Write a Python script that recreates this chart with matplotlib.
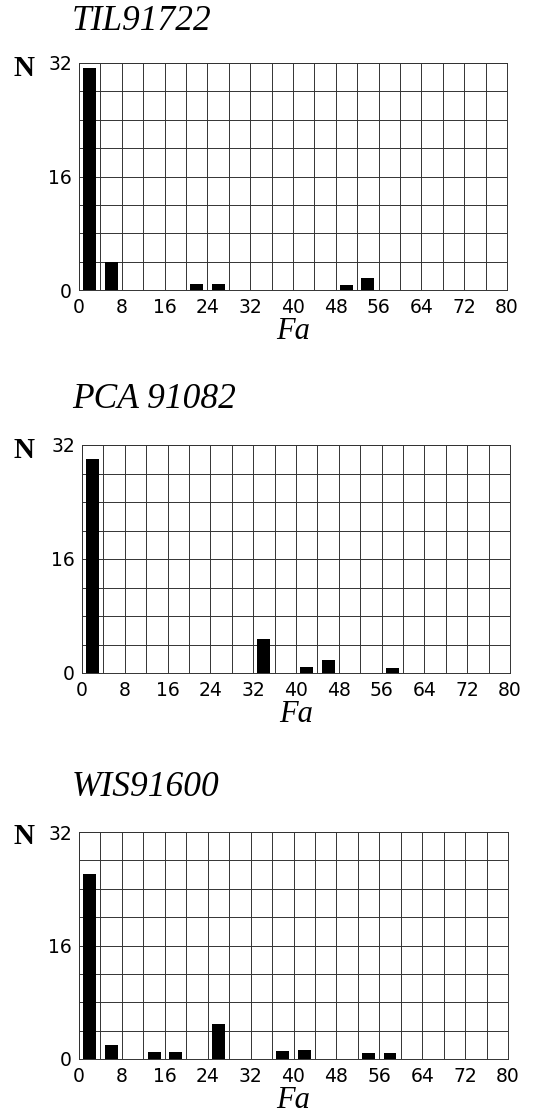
import matplotlib
matplotlib.use("Agg")
import matplotlib.pyplot as plt
import numpy as np

# ---- data ----
bin_starts = [0, 4, 8, 12, 16, 20, 24, 28, 32, 36, 40, 44, 48, 52, 56, 60, 64, 68, 72, 76]
x_ticks = [0, 8, 16, 24, 32, 40, 48, 56, 64, 72, 80]
y_ticks = [0, 16, 32]
titles = ["TIL91722", "PCA 91082", "WIS91600"]
counts_til = [31.3, 4.0, 0, 0, 0, 0.9, 0.8, 0, 0, 0, 0, 0, 0.7, 1.7, 0, 0, 0, 0, 0, 0]
counts_pca = [30.0, 0, 0, 0, 0, 0, 0, 0, 4.8, 0, 0.8, 1.8, 0, 0, 0.7, 0, 0, 0, 0, 0]
counts_wis = [26.1, 2.0, 0, 1.0, 1.0, 0, 5.0, 0, 0, 1.1, 1.2, 0, 0, 0.8, 0.8, 0, 0, 0, 0, 0]

W, H = 537, 1115
fig = plt.figure(figsize=(W / 100, H / 100), dpi=100)
fig.patch.set_facecolor("white")

# axes boxes in pixels: left, right, top, bottom
boxes = [(79, 507, 63, 290), (82, 510, 445, 673), (79, 508, 832, 1059)]
title_y = [22, 400, 788]
all_counts = [counts_til, counts_pca, counts_wis]

serif = ["Liberation Serif", "DejaVu Serif"]
sans = ["DejaVu Sans"]

for (l, r, t, b), ty, title, counts in zip(boxes, title_y, titles, all_counts):
    ax = fig.add_axes([l / W, 1 - b / H, (r - l) / W, (b - t) / H])
    centers = [s + 2 for s in bin_starts]
    vals = np.array(counts)
    mask = vals > 0
    ax.bar(np.array(centers)[mask], vals[mask], width=2.4, color="black", zorder=3)
    ax.set_xlim(0, 80)
    ax.set_ylim(0, 32)
    ax.set_xticks(np.arange(0, 81, 4), minor=True)
    ax.set_yticks(np.arange(0, 33, 4), minor=True)
    ax.set_xticks(x_ticks)
    ax.set_yticks(y_ticks)
    ax.grid(True, which="both", color="0.2", linewidth=0.7, zorder=1)
    ax.tick_params(which="both", length=0)
    ax.tick_params(axis="x", pad=6)
    ax.tick_params(axis="y", pad=5)
    for lab in ax.get_xticklabels() + ax.get_yticklabels():
        lab.set_fontfamily(sans)
        lab.set_fontsize(13.5)
    for sp in ax.spines.values():
        sp.set_color("0.2")
        sp.set_linewidth(0.7)
    ax.set_xlabel("Fa", fontfamily=serif, fontstyle="italic", fontsize=22, labelpad=0)
    fig.text(72 / W, 1 - ty / H, title, fontfamily=serif, fontstyle="italic",
             fontsize=25.5, ha="left", va="center")
    fig.text(13 / W, 1 - (t + 5) / H, "N", fontfamily=serif, fontweight="bold",
             fontsize=21, ha="left", va="center")

fig.savefig("out.png", dpi=100, facecolor="white")
